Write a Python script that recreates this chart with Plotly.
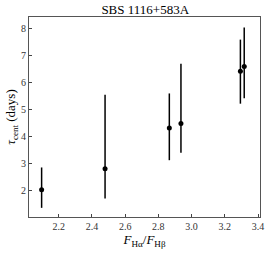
import plotly.graph_objects as go

ratio = [2.097, 2.479, 2.866, 2.936, 3.294, 3.317]
ratio_err = [0.004, 0.012, 0.005, 0.005, 0.010, 0.012]
tau = [2.02, 2.80, 4.32, 4.48, 6.42, 6.60]
tau_up = [0.83, 2.75, 1.28, 2.22, 1.18, 1.45]
tau_lo = [0.67, 1.10, 1.20, 1.08, 1.20, 1.18]

xticks = [2.2, 2.4, 2.6, 2.8, 3.0, 3.2, 3.4]
xticklabels = ["2.2", "2.4", "2.6", "2.8", "3.0", "3.2", "3.4"]
yticks = [2, 3, 4, 5, 6, 7, 8]

font = "Liberation Serif"

fig = go.Figure(go.Scatter(
    x=ratio, y=tau, mode="markers",
    marker=dict(color="black", size=5),
    error_y=dict(type="data", symmetric=False, array=tau_up, arrayminus=tau_lo,
                 color="black", thickness=1.5, width=0),
    error_x=dict(type="data", array=ratio_err, color="black", thickness=1.5, width=0),
    showlegend=False,
))

fig.update_layout(
    width=274, height=253,
    margin=dict(l=28, r=10, t=17, b=34),
    paper_bgcolor="white", plot_bgcolor="white",
    font=dict(family=font, color="black"),
    title=dict(text="SBS 1116+583A", x=0.53, xanchor="center", y=0.962, yanchor="middle",
               font=dict(size=13, family=font)),
)
fig.update_xaxes(
    range=[2.021, 3.412], tickvals=xticks, ticktext=xticklabels,
    ticks="inside", ticklen=3, tickcolor="#444", tickfont=dict(size=10, color="#333"),
    ticklabeloverflow="allow",
    showline=True, linecolor="#555", linewidth=1, mirror=True, showgrid=False, zeroline=False,
    title=dict(text="<i>F</i><sub>Hα</sub>/<i>F</i><sub>Hβ</sub>", font=dict(size=13), standoff=2),
)
fig.update_yaxes(
    range=[1.01, 8.44], tickvals=yticks,
    ticks="inside", ticklen=3, tickcolor="#444", tickfont=dict(size=10, color="#333"),
    showline=True, linecolor="#555", linewidth=1, mirror=True, showgrid=False, zeroline=False,
    title=dict(text="<i>τ</i><sub>cent</sub> (days)", font=dict(size=13), standoff=2),
)

fig.write_html("out.html", config={"displayModeBar": False},
               post_script="document.body.style.margin='0';")
